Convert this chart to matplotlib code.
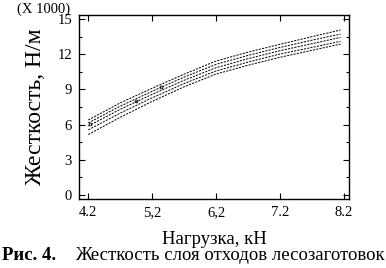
import matplotlib
matplotlib.use("Agg")
import matplotlib.pyplot as plt
from matplotlib.ticker import MultipleLocator, FixedLocator

plt.rcParams['font.family'] = ['Liberation Serif', 'DejaVu Serif']

# Data (values in thousands of N/m)
x_load = [4.2, 4.7, 5.2, 5.7, 6.2, 6.7, 7.2, 7.7, 8.15]
upper_pred = [6.39, 7.85, 9.10, 10.30, 11.42, 12.18, 12.85, 13.50, 14.07]
upper_conf = [6.14, 7.57, 8.84, 10.05, 11.14, 11.90, 12.58, 13.20, 13.72]
fit_line   = [5.88, 7.30, 8.58, 9.78, 10.85, 11.62, 12.30, 12.90, 13.44]
lower_conf = [5.55, 6.98, 8.28, 9.50, 10.57, 11.33, 12.02, 12.58, 13.10]
lower_pred = [5.15, 6.62, 7.98, 9.22, 10.31, 11.06, 11.74, 12.33, 12.87]
obs_x = [4.23, 4.94, 5.34]
obs_y = [6.03, 8.04, 9.23]

x_ticks = [4.2, 5.2, 6.2, 7.2, 8.2]
x_tick_labels = ['4.2', '5,2', '6,2', '7.2', '8.2']
y_ticks = [0, 3, 6, 9, 12, 15]
y_tick_labels = ['0', '3', '6', '9', '12', '15']

fig = plt.figure(figsize=(3.86, 2.68), dpi=100)
ax = fig.add_axes([0.2047, 0.2575, 0.699, 0.6865])

for series in [upper_pred, upper_conf, fit_line, lower_conf, lower_pred]:
    ax.plot(x_load, series, color='black', lw=0.7, dashes=(2.2, 1.2))
ax.plot(obs_x, obs_y, 'o', ms=2, mfc='none', mec='black', mew=0.6)

ax.set_xlim(4.055, 8.28)
ax.set_ylim(-0.35, 15.35)
ax.xaxis.set_major_locator(FixedLocator(x_ticks))
ax.set_xticklabels(x_tick_labels)
ax.yaxis.set_major_locator(FixedLocator(y_ticks))
ax.set_yticklabels(y_tick_labels)
ax.yaxis.set_minor_locator(MultipleLocator(1.5))
ax.tick_params(which='both', direction='in', top=True, right=True, width=0.8, labelsize=10.5, pad=5)
ax.tick_params(which='major', length=4)
ax.tick_params(which='minor', length=2)
for s in ax.spines.values():
    s.set_linewidth(1.0)

ax.set_xlabel('Нагрузка, кН', fontsize=13.5, labelpad=9)
ax.set_ylabel('Жесткость, Н/м', fontsize=17, labelpad=8)
fig.text(0.045, 0.992, '(X 1000)', fontsize=10.5, va='top', ha='left')

fig.text(0.005, 0.015, 'Рис. 4.', fontsize=13.5, fontweight='bold', ha='left', va='bottom')
fig.text(0.996, 0.015, 'Жесткость слоя отходов лесозаготовок', fontsize=13.5, ha='right', va='bottom')

fig.savefig('out.png', dpi=100)
